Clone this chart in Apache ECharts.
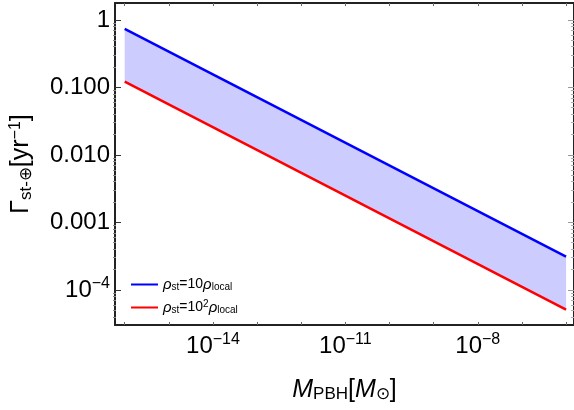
<!DOCTYPE html>
<html><head><meta charset="utf-8">
<script src="https://cdn.jsdelivr.net/npm/echarts@6/dist/echarts.min.js"></script>
<style>html,body{margin:0;padding:0;background:#fff}#c{width:574px;height:410px}</style>
</head><body><div id="c"></div>
<script>
// ---- data ----
const massPoints = [1e-16, 1e-6];            // M_PBH [M_sun]
const gammaHigh = [0.735, 3.1e-4];           // rho_st = 10 rho_local
const gammaLow = [0.122, 5.1e-5];            // rho_st = 10^2 rho_local
const seriesNames = ['high', 'low'];
const xLabelExps = [-14, -11, -8];
const xTickExps = [-16, -15, -14, -13, -12, -11, -10, -9, -8, -7, -6];
const yMajorExps = [0, -1, -2, -3, -4];
const yTickLabels = ['1', '0.100', '0.010', '0.001', '10{sup|\u22124}'];
const xExpRange = [-16.22, -5.82];
const yExpRange = [-4.52, 0.25];

const lg = Math.log10;
const highData = massPoints.map((m, i) => [lg(m), lg(gammaHigh[i])]);
const lowData = massPoints.map((m, i) => [lg(m), lg(gammaLow[i])]);
const yMinor = [];
for (let n = -5; n <= 0; n++) for (let k = 2; k <= 9; k++) {
  const v = n + lg(k);
  if (v > yExpRange[0] && v < yExpRange[1]) yMinor.push(v);
}
const FONT = 'Liberation Sans, Arial, sans-serif';
const frameLine = { show: true, onZero: false, lineStyle: { color: '#222', width: 2 } };
const noLine = { show: false, onZero: false };

const chart = echarts.init(document.getElementById('c'), null, { renderer: 'canvas' });
const gridBox = { left: 113, top: 3, width: 462, height: 322 };

chart.setOption({
  animation: false,
  backgroundColor: '#fff',
  grid: [Object.assign({}, gridBox), Object.assign({}, gridBox)],
  xAxis: [
    { type: 'value', gridIndex: 0, position: 'bottom', min: xExpRange[0], max: xExpRange[1],
      axisLine: frameLine, splitLine: { show: false },
      axisTick: { inside: true, length: 3, customValues: xTickExps, lineStyle: { color: '#666', width: 1 } },
      axisLabel: { customValues: xLabelExps, margin: 7, color: '#000', fontFamily: FONT, fontSize: 24,
        formatter: v => '10{sup|\u2212' + Math.round(-v) + '}',
        rich: { sup: { fontSize: 16, fontFamily: FONT, color: '#000', padding: [0, 0, 12, 0] } } },
      name: '{it|M}{sub|PBH}[{it|M}{sub|\u2299}]', nameLocation: 'middle', nameGap: 52,
      nameTextStyle: { fontFamily: FONT, fontSize: 25, color: '#000',
        rich: { it: { fontStyle: 'italic', fontSize: 25, fontFamily: FONT, color: '#000' },
                sub: { fontSize: 17, fontFamily: FONT, color: '#000', padding: [9, 0, 0, 0] } } } },
    { type: 'value', gridIndex: 0, position: 'top', min: xExpRange[0], max: xExpRange[1],
      axisLine: frameLine, splitLine: { show: false }, axisLabel: { show: false },
      axisTick: { inside: true, length: 3, customValues: xTickExps, lineStyle: { color: '#666', width: 1 } } },
    { type: 'value', gridIndex: 1, show: false, min: xExpRange[0], max: xExpRange[1], axisLine: noLine }
  ],
  yAxis: [
    { type: 'value', gridIndex: 0, position: 'left', min: yExpRange[0], max: yExpRange[1],
      axisLine: frameLine, splitLine: { show: false },
      axisTick: { inside: true, length: 6, customValues: yMajorExps, lineStyle: { color: '#333', width: 1 } },
      axisLabel: { customValues: yMajorExps, margin: 5, color: '#000', fontFamily: FONT, fontSize: 24,
        formatter: v => yTickLabels[yMajorExps.indexOf(Math.round(v))],
        rich: { sup: { fontSize: 16, fontFamily: FONT, color: '#000', padding: [0, 0, 12, 0] } } },
      name: '\u0393{sub|st-\u2295}[yr{sup|\u22121}]', nameLocation: 'middle', nameGap: 80, nameRotate: 90,
      nameTextStyle: { fontFamily: FONT, fontSize: 25, color: '#000',
        rich: { sub: { fontSize: 17, fontFamily: FONT, color: '#000', padding: [10, 0, 0, 0] },
                sup: { fontSize: 16, fontFamily: FONT, color: '#000', padding: [0, 0, 11, 0] } } } },
    { type: 'value', gridIndex: 0, position: 'right', min: yExpRange[0], max: yExpRange[1],
      axisLine: frameLine, splitLine: { show: false }, axisLabel: { show: false },
      axisTick: { inside: true, length: 6, customValues: yMajorExps, lineStyle: { color: '#999', width: 1 } } },
    { type: 'value', gridIndex: 1, position: 'left', min: yExpRange[0], max: yExpRange[1],
      axisLine: noLine, splitLine: { show: false }, axisLabel: { show: false },
      axisTick: { inside: true, length: 3, customValues: yMinor, lineStyle: { color: '#888', width: 1 } } },
    { type: 'value', gridIndex: 1, position: 'right', min: yExpRange[0], max: yExpRange[1],
      axisLine: noLine, splitLine: { show: false }, axisLabel: { show: false },
      axisTick: { inside: true, length: 3, customValues: yMinor, lineStyle: { color: '#aaa', width: 1 } } }
  ],
  legend: {
    data: seriesNames, orient: 'vertical', left: 126, top: 270, itemGap: 4,
    icon: 'rect', itemWidth: 27, itemHeight: 2,
    formatter: n => n === 'high'
      ? '{r|\u03c1}{s|st}=10{r|\u03c1}{s|local}'
      : '{r|\u03c1}{s|st}=10{p|2}{r|\u03c1}{s|local}',
    textStyle: { fontFamily: FONT, fontSize: 14, color: '#000', lineHeight: 19,
      rich: { r: { fontStyle: 'italic', fontSize: 15, fontFamily: FONT, color: '#000' },
              s: { fontSize: 10, fontFamily: FONT, color: '#000', padding: [5, 0, 0, 0] },
              p: { fontSize: 10, fontFamily: FONT, color: '#000', padding: [0, 0, 7, 0] } } }
  },
  series: [
    { type: 'custom', xAxisIndex: 0, yAxisIndex: 0, silent: true, z: 1, data: [[xExpRange[0], yExpRange[0]]],
      renderItem: (params, api) => {
        const pts = highData.map(d => api.coord(d)).concat(lowData.slice().reverse().map(d => api.coord(d)));
        return { type: 'polygon', shape: { points: pts }, style: { fill: '#ccccff' } };
      } },
    { name: 'high', type: 'line', xAxisIndex: 0, yAxisIndex: 0, data: highData, showSymbol: false, z: 3,
      color: '#0000ff', lineStyle: { color: '#0000ff', width: 2.5 } },
    { name: 'low', type: 'line', xAxisIndex: 0, yAxisIndex: 0, data: lowData, showSymbol: false, z: 3,
      color: '#ff0000', lineStyle: { color: '#ff0000', width: 2.5 } }
  ]
});
</script></body></html>
